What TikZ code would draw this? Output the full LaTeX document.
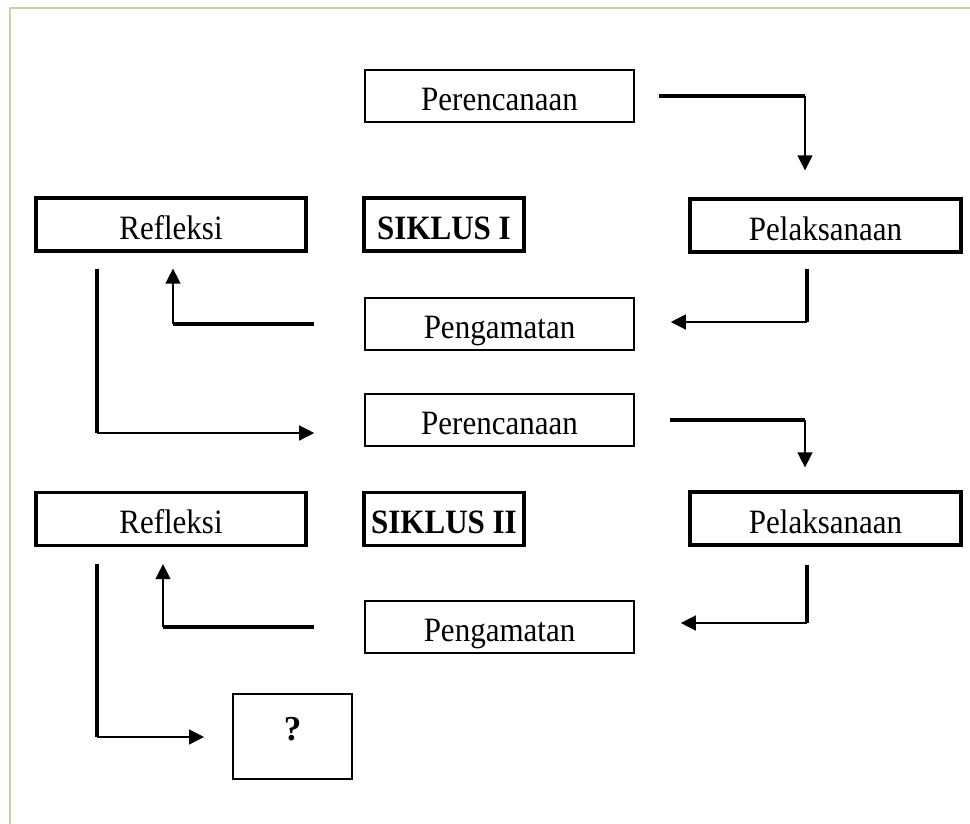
\documentclass[tikz,border=0pt]{standalone}
\usepackage{fontspec}
\usepackage{graphicx}
\setmainfont{Liberation Serif}
\usetikzlibrary{arrows.meta}
\definecolor{frameGreen}{RGB}{195,214,155}
\newcommand{\tallText}[1]{\scalebox{1}[1.1]{#1}}

\begin{document}
\begin{tikzpicture}
[x=1pt,y=-1pt,
  boxDecorate/.style={shape=rectangle,draw,line width=1.6pt,inner sep=0pt,minimum width=269pt,text height=40pt,text depth=12pt},%
  boldboxDecorate/.style={shape=rectangle,draw,line width=3.2pt,inner sep=0pt,text height=41pt,text depth=12pt},%
  heavyDecorate/.style={line width=4.5pt},%
  arrowDecorate/.style={-{Triangle[length=15pt,width=15pt]},line width=1.3pt}]
\fontsize{31pt}{31pt}\selectfont
\useasboundingbox (0,0) rectangle (970,823);
\clip (0,0) rectangle (970,823);
\draw[frameGreen,line width=2pt] (10,840) -- (10,8) -- (990,8);
%% plain boxes
\foreach \nodename/\x/\y/\txt in {per1/499.5/96/Perencanaan, pen1/499.5/324/Pengamatan, per2/499.5/420/Perencanaan, pen2/499.5/627/Pengamatan}
{
  \node (\nodename) at (\x,\y) [boxDecorate] {\tallText{\txt}};
}
%% bold boxes
\foreach \nodename/\x/\y/\w/\txt in {ref1/171/224.5/270/Refleksi, sik1/444/224.5/160/{\textbf{SIKLUS I}}, pel1/825.5/225.5/271/Pelaksanaan, ref2/171/519/270/Refleksi, sik2/444/519/160/{\textbf{SIKLUS II}}, pel2/825.5/518.5/271/Pelaksanaan}
{
  \node (\nodename) at (\x,\y) [boldboxDecorate,minimum width=\w pt] {\tallText{\txt}};
}
\node (q) at (292.5,736.5) [boxDecorate,line width=2pt,minimum width=119pt,text height=46pt,text depth=39pt] {\fontsize{35pt}{35pt}\selectfont\textbf{?}};
%% corners
\coordinate (k1) at (805,96);
\coordinate (k2) at (807,322);
\coordinate (k3) at (173,324);
\coordinate (k4) at (97,433);
\coordinate (k5) at (805,420);
\coordinate (k6) at (807,623);
\coordinate (k7) at (163,627);
\coordinate (k8) at (97,737);
%% siklus I
\draw[heavyDecorate,shorten <=24pt] (per1.east) -- (k1);
\draw[arrowDecorate,shorten >=27pt] (k1) -- (k1 |- pel1.north);
\draw[heavyDecorate,shorten <=15pt] (k2 |- pel1.south) -- (k2);
\draw[arrowDecorate,shorten >=36pt] (k2) -- (k2 -| pen1.east);
\draw[heavyDecorate,shorten <=50pt] (pen1.west) -- (k3);
\draw[arrowDecorate,shorten >=16pt] (k3) -- (k3 |- ref1.south);
\draw[heavyDecorate,shorten <=16pt] (k4 |- ref1.south) -- (k4);
\draw[arrowDecorate,shorten >=50pt] (k4) -- (k4 -| per2.west);
%% siklus II
\draw[heavyDecorate,shorten <=35pt] (per2.east) -- (k5);
\draw[arrowDecorate,shorten >=23pt] (k5) -- (k5 |- pel2.north);
\draw[heavyDecorate,shorten <=18pt] (k6 |- pel2.south) -- (k6);
\draw[arrowDecorate,shorten >=46pt] (k6) -- (k6 -| pen2.east);
\draw[heavyDecorate,shorten <=50pt] (pen2.west) -- (k7);
\draw[arrowDecorate,shorten >=17pt] (k7) -- (k7 |- ref2.south);
\draw[heavyDecorate,shorten <=17pt] (k8 |- ref2.south) -- (k8);
\draw[arrowDecorate,shorten >=28pt] (k8) -- (k8 -| q.west);
\end{tikzpicture}
\end{document}
